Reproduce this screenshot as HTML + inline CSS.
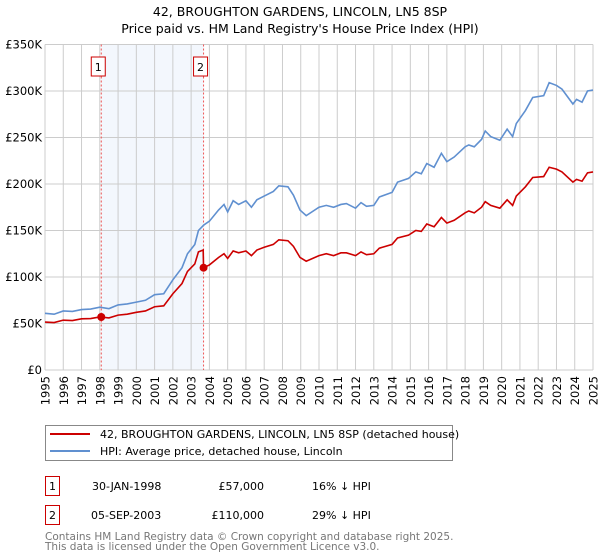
<!DOCTYPE html>
<html><head><meta charset="utf-8"><style>
body{margin:0;background:#fff;}
svg{display:block;font-family:"DejaVu Sans","Liberation Sans",sans-serif;}
</style></head><body>
<svg id="c" width="600" height="560" viewBox="0 0 600 560" xmlns="http://www.w3.org/2000/svg">
<text x="300" y="16" text-anchor="middle" font-size="12.5">42, BROUGHTON GARDENS, LINCOLN, LN5 8SP</text>
<text x="300" y="33" text-anchor="middle" font-size="12.5">Price paid vs. HM Land Registry's House Price Index (HPI)</text>
<g id="plot"></g>
<g>
<rect x="45.5" y="425.5" width="407" height="35" fill="#fff" stroke="#888"/>
<line x1="50" y1="434" x2="90" y2="434" stroke="#cc0000" stroke-width="2"/>
<text x="100" y="438" font-size="11">42, BROUGHTON GARDENS, LINCOLN, LN5 8SP (detached house)</text>
<line x1="50" y1="451" x2="90" y2="451" stroke="#6090d0" stroke-width="2"/>
<text x="100" y="455" font-size="11">HPI: Average price, detached house, Lincoln</text>
</g>
<g font-size="11">
<rect x="45.5" y="476.5" width="14" height="19" fill="#fff" stroke="#cc0000"/>
<text x="52.5" y="490" text-anchor="middle">1</text>
<text x="92" y="490">30-JAN-1998</text>
<text x="264" y="490" text-anchor="end">£57,000</text>
<text x="312" y="490">16% ↓ HPI</text>
<rect x="45.5" y="505.5" width="14" height="19" fill="#fff" stroke="#cc0000"/>
<text x="52.5" y="519" text-anchor="middle">2</text>
<text x="91" y="519">05-SEP-2003</text>
<text x="264" y="519" text-anchor="end">£110,000</text>
<text x="312" y="519">29% ↓ HPI</text>
</g>
<text x="45" y="540" font-size="10.5" fill="#777">Contains HM Land Registry data © Crown copyright and database right 2025.</text>
<text x="45" y="550" font-size="10.5" fill="#777">This data is licensed under the Open Government Licence v3.0.</text>
</svg>
<script>
const yTicks=[0,50000,100000,150000,200000,250000,300000,350000];
const yTickLabels=["£0","£50K","£100K","£150K","£200K","£250K","£300K","£350K"];
const xYears=[1995,1996,1997,1998,1999,2000,2001,2002,2003,2004,2005,2006,2007,2008,2009,2010,2011,2012,2013,2014,2015,2016,2017,2018,2019,2020,2021,2022,2023,2024,2025];
const hpiYears=[1995,1995.5,1996,1996.5,1997,1997.5,1998,1998.5,1999,1999.5,2000,2000.5,2001,2001.5,2002,2002.5,2002.8,2003.2,2003.4,2003.7,2004,2004.5,2004.8,2005,2005.3,2005.6,2006,2006.3,2006.6,2007,2007.5,2007.8,2008.3,2008.6,2008.96,2009.3,2010,2010.4,2010.8,2011.2,2011.5,2012,2012.3,2012.6,2013,2013.3,2014,2014.3,2014.9,2015.3,2015.6,2015.9,2016.3,2016.7,2017,2017.4,2018,2018.2,2018.5,2018.9,2019.1,2019.4,2019.9,2020.3,2020.6,2020.8,2021.3,2021.7,2022.3,2022.6,2023,2023.3,2023.9,2024.1,2024.4,2024.7,2025];
const hpiValues=[61000,60000,63500,63000,65000,65500,67500,66000,70000,71000,73000,75000,81000,82000,97000,110000,125000,135000,150000,156000,160000,172000,178000,170000,182000,178000,182000,175000,183000,187000,192000,198000,197000,188000,172000,166000,175000,177000,175000,178000,179000,174000,180000,176000,177000,186000,191000,202000,206000,213000,211000,222000,218000,233000,224000,229000,240000,242000,240000,248000,257000,251000,247000,259000,251000,265000,279000,293000,295000,309000,306000,302000,286000,291000,288000,300000,301000];
const priceYears=[1995,1995.5,1996,1996.5,1997,1997.5,1998,1998.5,1999,1999.5,2000,2000.5,2001,2001.5,2002,2002.5,2002.8,2003.2,2003.4,2003.66,2003.68,2004,2004.5,2004.8,2005,2005.3,2005.6,2006,2006.3,2006.6,2007,2007.5,2007.8,2008.3,2008.6,2008.96,2009.3,2010,2010.4,2010.8,2011.2,2011.5,2012,2012.3,2012.6,2013,2013.3,2014,2014.3,2014.9,2015.3,2015.6,2015.9,2016.3,2016.7,2017,2017.4,2018,2018.2,2018.5,2018.9,2019.1,2019.4,2019.9,2020.3,2020.6,2020.8,2021.3,2021.7,2022.3,2022.6,2023,2023.3,2023.9,2024.1,2024.4,2024.7,2025];
const priceValues=[51500,51000,53600,53200,55000,55300,57000,56000,59000,60000,62000,63500,68000,69000,82000,93000,106000,114000,127000,129000,110000,113000,121000,125000,120000,128000,126000,128000,123000,129000,132000,135000,140000,139000,133000,121000,117000,123000,125000,123000,126000,126000,123000,127000,124000,125000,131000,135000,142000,145000,150000,149000,157000,154000,164000,158000,161000,169000,171000,169000,175000,181000,177000,174000,183000,177000,187000,197000,207000,208000,218000,216000,213000,202000,205000,203000,212000,213000];
const saleYears=[1998.08,2003.68];
const salePrices=[57000,110000];
const saleLabels=["1","2"];

const NS="http://www.w3.org/2000/svg";
const X0=45,X1=593,Y0=370,Y1=44.5;
const xs=y=>X0+(y-1995)/(2025-1995)*(X1-X0);
const ys=v=>Y0-v/350000*(Y0-Y1);
const plot=document.getElementById('plot');
function mk(t,a,p){const e=document.createElementNS(NS,t);for(const k in a)e.setAttribute(k,a[k]);(p||plot).appendChild(e);return e;}

let shade=mk('rect',{x:xs(saleYears[0]),y:Y1,width:xs(saleYears[1])-xs(saleYears[0]),height:Y0-Y1,fill:'#eef3fc',opacity:'0.7'});



xYears.forEach(yr=>{
  const l=mk('line',{x1:xs(yr),x2:xs(yr),y1:Y1,y2:Y0,stroke:'#cccccc','stroke-width':1});
  
  
  const t=mk('text',{transform:`translate(${xs(yr)+4.5},${Y0+6}) rotate(-90)`,'text-anchor':'end','font-size':11.5});
  t.textContent=yr;
  
  
});
yTicks.forEach((v,i)=>{
  const l=mk('line',{x1:X0,x2:X1,y1:ys(v),y2:ys(v),stroke:'#cccccc','stroke-width':1});
  
  
  const t=mk('text',{x:X0-3,y:ys(v)+4,'text-anchor':'end','font-size':11.5});
  t.textContent=yTickLabels[i];
  
  
});

saleYears.forEach((yr,i)=>{
  const l=mk('line',{x1:xs(yr),x2:xs(yr),y1:Y1,y2:Y0,stroke:'#ee5555','stroke-width':1,'stroke-dasharray':'2,2'});
  
  
  const r=mk('rect',{x:xs(yr)-10,y:57,width:14,height:19,fill:'#fff',stroke:'#cc0000'});
  
  
  const t=mk('text',{x:xs(yr)-3,y:71,'text-anchor':'middle','font-size':11});
  t.textContent=saleLabels[i];
  
  
});

const hp=mk('polyline',{points:hpiYears.map((y,i)=>xs(y)+','+ys(hpiValues[i])).join(' '),fill:'none',stroke:'#6090d0','stroke-width':1.6});


const pp=mk('polyline',{points:priceYears.map((y,i)=>xs(y)+','+ys(priceValues[i])).join(' '),fill:'none',stroke:'#cc0000','stroke-width':1.6});


saleYears.forEach((yr,i)=>{
  const c=mk('circle',{cx:xs(yr),cy:ys(salePrices[i]),r:4,fill:'#cc0000'});
  
  
});
</script>
</body></html>
